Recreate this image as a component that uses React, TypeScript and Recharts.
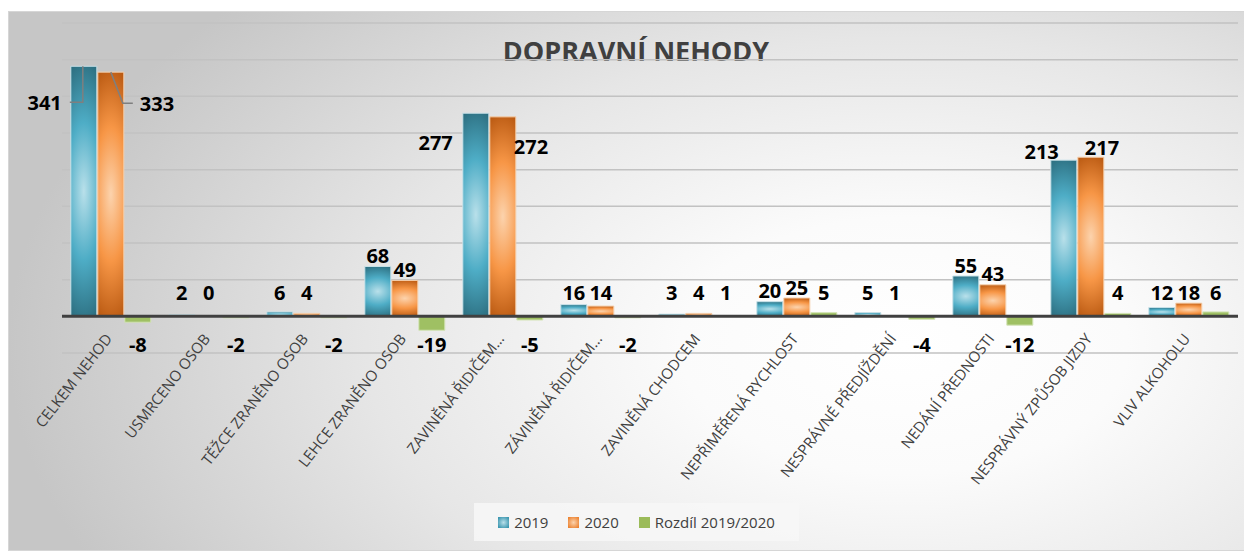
import React from 'react';
import { BarChart, Bar, XAxis, YAxis, CartesianGrid, ReferenceLine, Legend, LabelList } from 'recharts';

const categories = [
  'CELKEM NEHOD',
  'USMRCENO OSOB',
  'TĚŽCE ZRANĚNO OSOB',
  'LEHCE ZRANĚNO OSOB',
  'ZAVINĚNÁ ŘIDIČEM…',
  'ZÁVINĚNÁ ŘIDIČEM…',
  'ZAVINĚNÁ CHODCEM',
  'NEPŘIMĚŘENÁ RYCHLOST',
  'NESPRÁVNÉ PŘEDJÍŽDĚNÍ',
  'NEDÁNÍ PŘEDNOSTI',
  'NESPRÁVNÝ ZPŮSOB JIZDY',
  'VLIV ALKOHOLU',
];
const values2019 = [341, 2, 6, 68, 277, 16, 3, 20, 5, 55, 213, 12];
const values2020 = [333, 0, 4, 49, 272, 14, 4, 25, 1, 43, 217, 18];
const diffValues = [-8, -2, -2, -19, -5, -2, 1, 5, -4, -12, 4, 6];
const yTicks = [-50, 0, 50, 100, 150, 200, 250, 300, 350, 400];

const rows = categories.map((name, i) => ({
  name,
  y2019: values2019[i],
  y2020: values2020[i],
  diff: diffValues[i],
}));

const FONT = '"Open Sans", "DejaVu Sans", sans-serif';

const legendItems = [
  { label: '2019', fill: 'url(#leg2019)' },
  { label: '2020', fill: 'url(#leg2020)' },
  { label: 'Rozdíl 2019/2020', fill: '#9bbb59' },
];

function CategoryTick({ x, y, payload }: any) {
  return (
    <g transform={`translate(${x + 2},${y - 16}) rotate(-52)`}>
      <text x={0} y={0} textAnchor="end" fill="#404040" fontSize={15} fontFamily={FONT}>
        {payload.value}
      </text>
    </g>
  );
}

// keep zero-valued bars so their label still gets drawn
const zeroMin = (v: any) => (v === 0 ? 0.5 : 0);

function makeLabel(series: 'y2019' | 'y2020' | 'diff') {
  return (props: any) => {
    const { x, y, width, height, value } = props;
    const top = Math.min(y, y + height);
    const bottom = Math.max(y, y + height);
    const cx = x + width / 2;
    const style = { fontFamily: FONT, fontWeight: 700, fontSize: 20, fill: '#000' };

    if (series !== 'diff' && value > 250) {
      const leader = value > 300;
      if (series === 'y2019') {
        const ly = top + (leader ? 36 : 29);
        return (
          <g>
            {leader && (
              <polyline
                points={`${x - 1},${ly} ${cx - 1},${ly} ${cx - 1},${top}`}
                fill="none"
                stroke="#7f7f7f"
                strokeWidth={1.5}
              />
            )}
            <text x={x - (leader ? 9 : 10)} y={ly} textAnchor="end" dominantBaseline="central" {...style}>
              {value}
            </text>
          </g>
        );
      }
      const ly = top + (leader ? 31 : 30);
      return (
        <g>
          {leader && (
            <polyline
              points={`${cx},${top} ${x + width - 1},${ly} ${x + width + 9},${ly}`}
              fill="none"
              stroke="#7f7f7f"
              strokeWidth={1.5}
            />
          )}
          <text x={x + width + (leader ? 16 : -2)} y={ly} textAnchor="start" dominantBaseline="central" {...style}>
            {value}
          </text>
        </g>
      );
    }

    if (series !== 'diff' && value >= 100) {
      // wide labels of neighbouring tall bars pushed apart
      const ly = top - (series === 'y2019' ? 9 : 10);
      return series === 'y2019' ? (
        <text x={x + width - 18} y={ly} textAnchor="end" dominantBaseline="central" {...style}>
          {value}
        </text>
      ) : (
        <text x={x + 7} y={ly} textAnchor="start" dominantBaseline="central" {...style}>
          {value}
        </text>
      );
    }

    let ly: number;
    if (value < 0) {
      ly = Math.max(bottom + 12, top + 28);
    } else {
      ly = Math.min(top - 11, bottom - 24);
    }
    return (
      <text x={cx} y={ly} textAnchor="middle" dominantBaseline="central" {...style}>
        {value}
      </text>
    );
  };
}

function LegendBox() {
  return (
    <div
      style={{
        width: 325,
        height: 38,
        background: 'rgba(247,247,247,0.85)',
        display: 'flex',
        alignItems: 'center',
        justifyContent: 'center',
        gap: 20,
        fontFamily: FONT,
        fontSize: 15,
        color: '#404040',
      }}
    >
      {legendItems.map((it) => (
        <div key={it.label} style={{ display: 'flex', alignItems: 'center', gap: 5 }}>
          <svg width={11} height={11}>
            <rect x={0} y={0} width={11} height={11} fill={it.fill} />
          </svg>
          <span>{it.label}</span>
        </div>
      ))}
    </div>
  );
}

export default function App() {
  return (
    <div
      style={{
        position: 'relative',
        width: 1244,
        height: 540,
        marginTop: 3,
        background:
          'radial-gradient(ellipse 72% 95% at 72% 62%, #ffffff 0%, #fbfbfb 25%, #e6e6e6 60%, #d2d2d2 85%, #c6c6c6 100%)',
        boxShadow: 'inset 0 0 0 1px #d6d6d6',
      }}
    >
      <div
        style={{
          position: 'absolute',
          left: 0,
          width: 1256,
          top: 22,
          textAlign: 'center',
          fontFamily: FONT,
          fontWeight: 700,
          fontSize: 27,
          color: '#404040',
          lineHeight: '36px',
        }}
      >
        DOPRAVNÍ NEHODY
      </div>
      <BarChart
        width={1244}
        height={540}
        data={rows}
        margin={{ top: 12, right: 14, left: 54, bottom: 10 }}
        barCategoryGap="9%"
        barGap={1}
        style={{ position: 'absolute', left: 0, top: 0 }}
      >
        <defs>
          <radialGradient id="g2019" cx="0.5" cy="0.5" r="0.55" gradientTransform="translate(0.5,0.5) scale(2.4,1) translate(-0.5,-0.5)">
            <stop offset="0%" stopColor="#b9e0ea" />
            <stop offset="50%" stopColor="#4eadc6" />
            <stop offset="100%" stopColor="#2a6a7b" />
          </radialGradient>
          <radialGradient id="g2020" cx="0.5" cy="0.5" r="0.55" gradientTransform="translate(0.5,0.5) scale(2.4,1) translate(-0.5,-0.5)">
            <stop offset="0%" stopColor="#fcd3ad" />
            <stop offset="50%" stopColor="#f79646" />
            <stop offset="100%" stopColor="#b5550e" />
          </radialGradient>
          <radialGradient id="leg2019" cx="0.5" cy="0.5" r="0.6">
            <stop offset="0%" stopColor="#b9e0ea" />
            <stop offset="100%" stopColor="#3d97b0" />
          </radialGradient>
          <radialGradient id="leg2020" cx="0.5" cy="0.5" r="0.6">
            <stop offset="0%" stopColor="#fcd3ad" />
            <stop offset="100%" stopColor="#ec8433" />
          </radialGradient>
        </defs>
        <CartesianGrid horizontal vertical={false} stroke="#c2c2c2" strokeWidth={1.5} />
        <XAxis
          dataKey="name"
          interval={0}
          tickLine={false}
          axisLine={false}
          tickSize={0}
          height={150}
          tick={<CategoryTick />}
        />
        <YAxis hide domain={[-50, 400]} ticks={yTicks} />
        <Legend
          verticalAlign="bottom"
          content={<LegendBox />}
          wrapperStyle={{ left: 466, width: 325 }}
        />
        <ReferenceLine y={0} stroke="#404040" strokeWidth={3} />
        <Bar dataKey="y2019" name="2019" fill="url(#g2019)" stroke="#c9e2e9" strokeWidth={1} minPointSize={zeroMin} isAnimationActive={false}>
          <LabelList dataKey="y2019" content={makeLabel('y2019')} />
        </Bar>
        <Bar dataKey="y2020" name="2020" fill="url(#g2020)" stroke="#f6d0ad" strokeWidth={1} minPointSize={zeroMin} isAnimationActive={false}>
          <LabelList dataKey="y2020" content={makeLabel('y2020')} />
        </Bar>
        <Bar dataKey="diff" name="Rozdíl 2019/2020" fill="#9fc063" stroke="#d3e3b6" strokeWidth={1} isAnimationActive={false}>
          <LabelList dataKey="diff" content={makeLabel('diff')} />
        </Bar>
      </BarChart>
    </div>
  );
}
